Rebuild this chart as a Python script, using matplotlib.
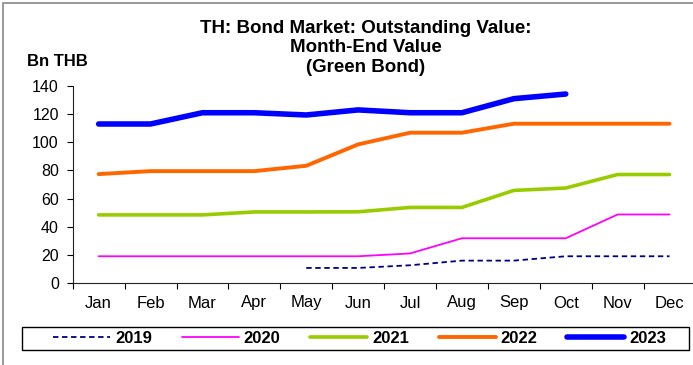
import numpy as np
import matplotlib
matplotlib.use("Agg")
import matplotlib.pyplot as plt
from matplotlib.patches import Rectangle

plt.rcParams["font.family"] = ["Liberation Sans", "DejaVu Sans"]

# ------- DATA (Bn THB, month-end outstanding value of green bonds) -------
months = ["Jan", "Feb", "Mar", "Apr", "May", "Jun",
          "Jul", "Aug", "Sep", "Oct", "Nov", "Dec"]
nan = np.nan
y2019 = [nan, nan, nan, nan, 10.7, 10.7, 12.6, 15.9, 15.9, 19, 19, 19]
y2020 = [19, 19, 19, 19, 19, 19, 21, 31.8, 31.8, 31.8, 48.7, 48.7]
y2021 = [48.4, 48.4, 48.4, 50.5, 50.5, 50.6, 53.7, 53.7, 65.8, 67.5, 77.1, 77.1]
y2022 = [77.4, 79.5, 79.5, 79.5, 83.3, 98.5, 106.8, 106.8, 113.2, 113.2, 113.2, 113.2]
y2023 = [113, 113, 121, 121, 119.4, 123, 121, 121, 131, 134.3, nan, nan]
years = ["2019", "2020", "2021", "2022", "2023"]

# ------- STYLES -------
styles = [
    dict(color="#000080", lw=1.3, ls=(0, (3, 2))),
    dict(color="#FF00FF", lw=1.3, ls="-"),
    dict(color="#99CC00", lw=2.6, ls="-"),
    dict(color="#FF6600", lw=2.8, ls="-"),
    dict(color="#0000FF", lw=4.0, ls="-"),
]

W, H = 693, 365
fig = plt.figure(figsize=(W / 100, H / 100), dpi=100)
ax = fig.add_axes([72.7 / W, 1 - 283 / H, 622.8 / W, 197 / H])

x = np.arange(len(months))
handles = []
for vals, st in zip([y2019, y2020, y2021, y2022, y2023], styles):
    ln, = ax.plot(x, vals, color=st["color"], linewidth=st["lw"],
                  linestyle=st["ls"], solid_capstyle="round",
                  solid_joinstyle="round")
    handles.append(ln)

ax.set_xlim(-0.5, 11.5)
ax.set_ylim(0, 140)
ax.set_yticks(np.arange(0, 141, 20))
ax.set_xticks(np.arange(-0.5, 12, 1))
ax.set_xticklabels([])
ax.set_xticks(x, minor=True)
ax.set_xticklabels(months, minor=True)
ax.tick_params(axis="x", which="major", direction="out", length=4, width=0.8)
ax.tick_params(axis="x", which="minor", length=0, pad=9, labelsize=12)
ax.tick_params(axis="y", direction="out", length=4, width=0.8, pad=6, labelsize=11.5)

for side in ["top", "right"]:
    ax.spines[side].set_visible(False)
for side in ["left", "bottom"]:
    ax.spines[side].set_linewidth(0.8)
    ax.spines[side].set_color("#222222")

# ------- TEXTS -------
fig.text(366 / W, 1 - 48 / H,
         "TH: Bond Market: Outstanding Value:\nMonth-End Value\n(Green Bond)",
         ha="center", va="center", ma="center", fontsize=13.5,
         fontweight="bold", linespacing=1.2)
fig.text(26.7 / W, 1 - 61 / H, "Bn THB", ha="left", va="center",
         fontsize=12, fontweight="bold")

# ------- LEGEND -------
fig.patches.append(Rectangle((21.7 / W, 1 - 350 / H), 667.6 / W, 22.7 / H,
                             transform=fig.transFigure, fill=False,
                             edgecolor="black", linewidth=1))
fig.legend(handles, years, ncol=5, loc="center",
           bbox_to_anchor=(359.7 / W, 1 - 338.7 / H), frameon=False,
           prop=dict(size=12, weight="bold"), handlelength=3.4,
           handletextpad=0.3, columnspacing=1.8)

# outer chart border (gray) along left and top
fig.patches.append(Rectangle((3 / W, -0.1), 2, 1.1 - 3 / H,
                             transform=fig.transFigure, fill=False,
                             edgecolor="#888888", linewidth=1.2))

plt.savefig("out.png", dpi=100)
